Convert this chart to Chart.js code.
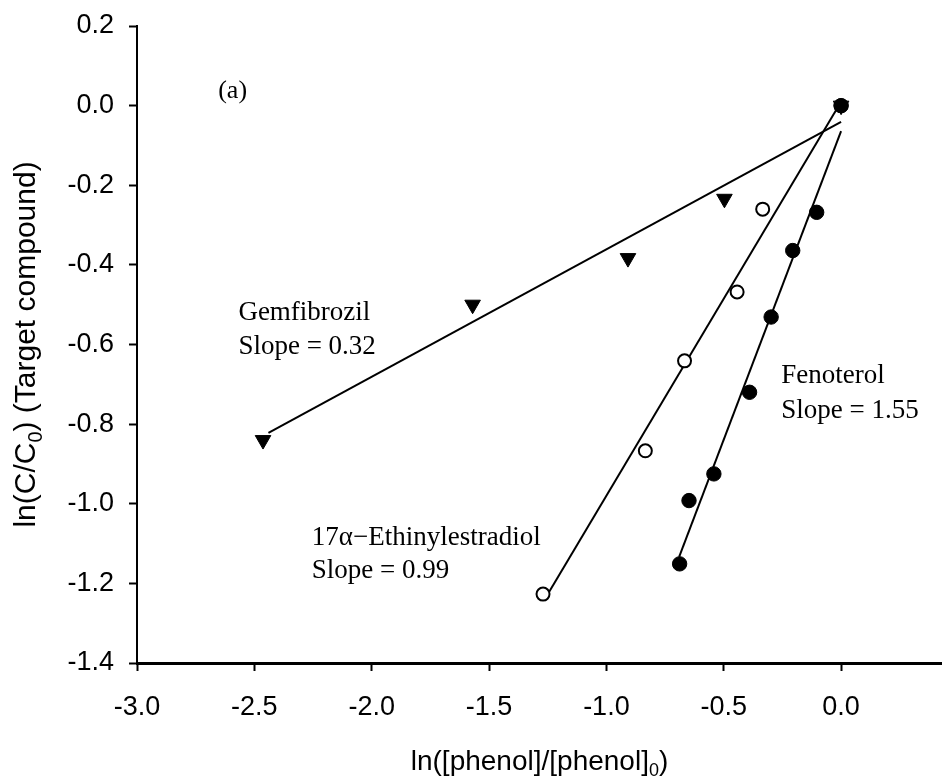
<!DOCTYPE html>
<html lang="en">
<head>
<meta charset="UTF-8">
<title>Target compound vs phenol decay</title>
<script src="https://cdn.jsdelivr.net/npm/chart.js"></script>
<style>
  html, body { margin: 0; padding: 0; background: #fff; overflow: hidden; }
  #wrap { position: relative; width: 942px; height: 782px; }
</style>
</head>
<body>
<div id="wrap"><canvas id="decayChart"></canvas></div>
<script>
// ln([phenol]/[phenol]0) on x, ln(C/C0) on y
const gemX = [0, -0.497, -0.908, -1.570, -2.463]
const gemY = [0, -0.234, -0.383, -0.500, -0.840]

const ee2X = [0, -0.334, -0.443, -0.667, -0.834, -1.270]
const ee2Y = [0, -0.260, -0.468, -0.641, -0.867, -1.227]

const fenX = [0, -0.104, -0.206, -0.298, -0.390, -0.542, -0.648, -0.688]
const fenY = [0, -0.268, -0.364, -0.531, -0.720, -0.925, -0.992, -1.151]

// linear fits: gemfibrozil, 17a-ethinylestradiol, fenoterol
const fitSlopes = [0.32, 0.99, 1.55]
const fitIntercepts = [-0.041, 0.01, -0.064]
const fitFrom = [-2.44, -1.25, -0.69]
const fitTo = [0, 0, 0]

const xTickRange = [-3.0, 0.43]
const yTickRange = [-1.4, 0.2]

const SANS = '"Liberation Sans", Arial, sans-serif'
const SERIF = '"Liberation Serif", "Times New Roman", serif'

const xTitle = [{ t: 'ln([phenol]/[phenol]' }, { t: '0', sub: true }, { t: ')' }]
const yTitle = [{ t: 'ln(C/C' }, { t: '0', sub: true }, { t: ') (Target compound)' }]

// text notes placed in data units (left edge, baseline)
const notes = [
  { text: '(a)', x: -2.654, y: 0.020, size: 26 },
  { text: 'Gemfibrozil', x: -2.568, y: -0.539, size: 27 },
  { text: 'Slope = 0.32', x: -2.568, y: -0.625, size: 27 },
  { text: '17\u03b1\u2212Ethinylestradiol', x: -2.255, y: -1.103, size: 27 },
  { text: 'Slope = 0.99', x: -2.255, y: -1.187, size: 27 },
  { text: 'Fenoterol', x: -0.255, y: -0.697, size: 27 },
  { text: 'Slope = 1.55', x: -0.255, y: -0.785, size: 27 },
]

const toPoints = (xs, ys) => xs.map((x, i) => ({ x, y: ys[i] }))

const fitLine = (i) => [
  { x: fitFrom[i], y: fitSlopes[i] * fitFrom[i] + fitIntercepts[i] },
  { x: fitTo[i], y: fitSlopes[i] * fitTo[i] + fitIntercepts[i] },
]

function richWidth(ctx, parts, size) {
  let w = 0
  parts.forEach((p) => {
    ctx.font = (p.sub ? Math.round(size * 0.65) : size) + 'px ' + SANS
    w += ctx.measureText(p.t).width
  })
  return w
}

function drawRich(ctx, parts, x, y, size) {
  let cx = x
  parts.forEach((p) => {
    const s = p.sub ? Math.round(size * 0.65) : size
    ctx.font = s + 'px ' + SANS
    ctx.fillText(p.t, cx, p.sub ? y + size * 0.22 : y)
    cx += ctx.measureText(p.t).width
  })
}

const textLayer = {
  id: 'textLayer',
  afterDraw(chart) {
    const { ctx, chartArea: a, scales } = chart
    ctx.save()
    ctx.fillStyle = '#000'
    ctx.textAlign = 'left'
    ctx.textBaseline = 'alphabetic'

    notes.forEach((n) => {
      ctx.font = n.size + 'px ' + SERIF
      ctx.fillText(n.text, scales.x.getPixelForValue(n.x), scales.y.getPixelForValue(n.y))
    })

    // axis titles with subscripts
    const xw = richWidth(ctx, xTitle, 28)
    drawRich(ctx, xTitle, (a.left + a.right) / 2 - xw / 2, a.bottom + 107, 28)

    ctx.translate(35, (a.top + a.bottom) / 2)
    ctx.rotate(-Math.PI / 2)
    const yw = richWidth(ctx, yTitle, 30)
    drawRich(ctx, yTitle, -yw / 2, 0, 30)
    ctx.restore()
  },
}

const fmt = (v) => (Math.abs(v) < 1e-9 ? '0.0' : v.toFixed(1))

const axisCommon = {
  type: 'linear',
  bounds: 'data',
  grid: {
    drawOnChartArea: false,
    drawTicks: true,
    tickLength: 8,
    tickWidth: 2,
    tickColor: '#000',
  },
  ticks: {
    color: '#000',
    font: { family: SANS, size: 27 },
    includeBounds: false,
    callback: fmt,
  },
}

new Chart(document.getElementById('decayChart'), {
  type: 'scatter',
  data: {
    datasets: [
      {
        label: 'Fenoterol',
        data: toPoints(fenX, fenY),
        pointStyle: 'circle',
        pointRadius: 7.2,
        backgroundColor: '#000',
        borderColor: '#000',
        borderWidth: 1,
        order: 0,
      },
      {
        label: '17a-Ethinylestradiol',
        data: toPoints(ee2X, ee2Y),
        pointStyle: 'circle',
        pointRadius: 6.5,
        backgroundColor: '#fff',
        borderColor: '#000',
        borderWidth: 2,
        order: 1,
      },
      {
        label: 'Gemfibrozil',
        data: toPoints(gemX, gemY),
        pointStyle: 'triangle',
        rotation: 180,
        pointRadius: 9,
        backgroundColor: '#000',
        borderColor: '#000',
        borderWidth: 1,
        order: 2,
      },
      ...[0, 1, 2].map((i) => ({
        label: 'fit ' + i,
        data: fitLine(i),
        showLine: true,
        pointRadius: 0,
        borderColor: '#000',
        borderWidth: 2,
        order: 3,
      })),
    ],
  },
  options: {
    responsive: true,
    maintainAspectRatio: false,
    animation: false,
    layout: { autoPadding: false, padding: { top: 26, right: 0, bottom: 0, left: 0 } },
    plugins: {
      legend: { display: false },
      tooltip: { enabled: false },
    },
    scales: {
      x: {
        ...axisCommon,
        position: 'bottom',
        min: xTickRange[0],
        max: xTickRange[1],
        border: { display: true, color: '#000', width: 3 },
        ticks: { ...axisCommon.ticks, stepSize: 0.5, padding: 20, maxRotation: 0 },
        afterFit: (scale) => {
          scale.height = 119
          scale.paddingLeft = 0
          scale.paddingRight = 0
        },
      },
      y: {
        ...axisCommon,
        position: 'left',
        min: yTickRange[0],
        max: yTickRange[1],
        border: { display: true, color: '#000', width: 2 },
        ticks: { ...axisCommon.ticks, stepSize: 0.2, padding: 15 },
        afterFit: (scale) => {
          scale.width = 137
          scale.paddingTop = 0
          scale.paddingBottom = 0
        },
      },
    },
  },
  plugins: [textLayer],
})
</script>
</body>
</html>
